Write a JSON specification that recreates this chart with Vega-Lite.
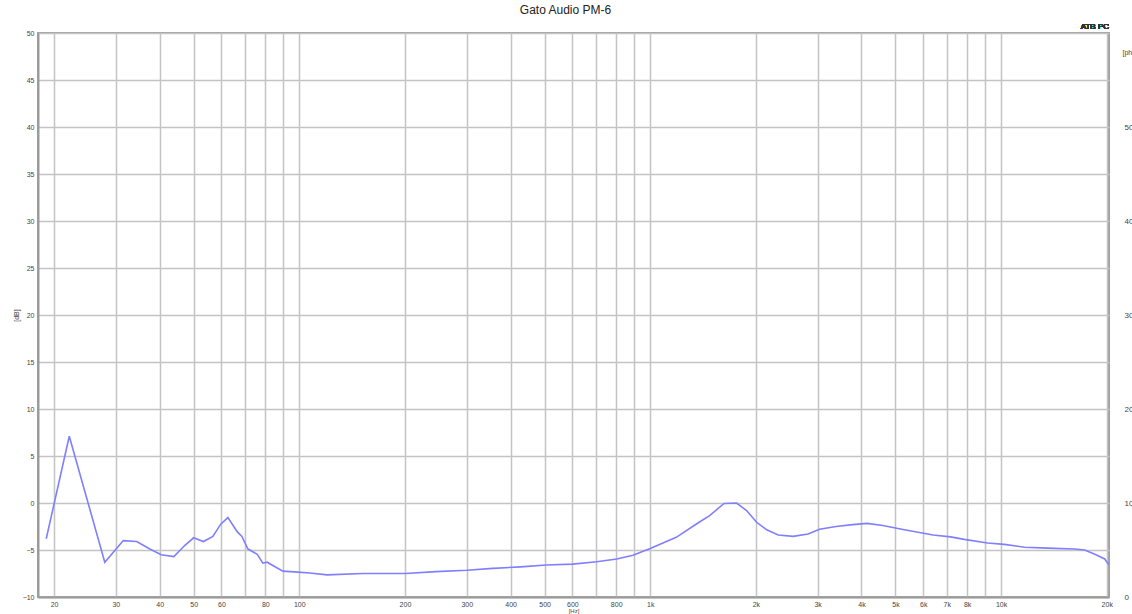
{
  "$schema": "https://vega.github.io/schema/vega-lite/v6.json",
  "autosize": {"type": "none"},
  "width": 1071,
  "height": 564,
  "padding": {"left": 38, "top": 33, "right": 23, "bottom": 17},
  "background": "white",
  "title": {
    "text": "Gato Audio PM-6",
    "fontSize": 12,
    "fontWeight": "normal",
    "font": "Liberation Sans",
    "color": "#222222",
    "anchor": "middle",
    "offset": 6,
    "dx": -8
  },
  "config": {
    "font": "Liberation Sans",
    "view": {"stroke": "#a0a0a0", "strokeWidth": 2},
    "axis": {
      "gridColor": "#c4c4c4",
      "gridWidth": 1.5,
      "ticks": false,
      "domainColor": "#9a9a9a",
      "domainWidth": 2,
      "labelColor": "#444444",
      "labelFontSize": 7,
      "titleColor": "#444444",
      "titleFontSize": 7,
      "titleFontWeight": "normal",
      "labelFlush": false,
      "labelOverlap": false,
      "labelBound": false
    }
  },
  "data": {
    "values": [
      {"f": 19, "db": -3.8},
      {"f": 22.1, "db": 7.1},
      {"f": 27.9, "db": -6.3},
      {"f": 31.5, "db": -4.0},
      {"f": 34.4, "db": -4.1},
      {"f": 37.5, "db": -4.9},
      {"f": 40.4, "db": -5.5},
      {"f": 43.9, "db": -5.7},
      {"f": 47.2, "db": -4.5},
      {"f": 50, "db": -3.7},
      {"f": 53.3, "db": -4.1},
      {"f": 56.7, "db": -3.55},
      {"f": 59.7, "db": -2.25},
      {"f": 62.6, "db": -1.55},
      {"f": 66.5, "db": -3.05},
      {"f": 68.6, "db": -3.55},
      {"f": 71.4, "db": -4.9},
      {"f": 75.9, "db": -5.45},
      {"f": 78.7, "db": -6.4},
      {"f": 81, "db": -6.3},
      {"f": 85, "db": -6.75},
      {"f": 89.8, "db": -7.25},
      {"f": 99, "db": -7.35},
      {"f": 107, "db": -7.45},
      {"f": 120, "db": -7.65},
      {"f": 152, "db": -7.5},
      {"f": 201, "db": -7.5},
      {"f": 245, "db": -7.3},
      {"f": 300, "db": -7.15},
      {"f": 356, "db": -6.95},
      {"f": 427, "db": -6.8},
      {"f": 506, "db": -6.6},
      {"f": 601, "db": -6.5},
      {"f": 704, "db": -6.25},
      {"f": 803, "db": -5.95},
      {"f": 893, "db": -5.55},
      {"f": 1000, "db": -4.85},
      {"f": 1186, "db": -3.65},
      {"f": 1378, "db": -2.05},
      {"f": 1477, "db": -1.35},
      {"f": 1623, "db": -0.05},
      {"f": 1762, "db": 0.0},
      {"f": 1882, "db": -0.8},
      {"f": 2010, "db": -2.05},
      {"f": 2148, "db": -2.85},
      {"f": 2315, "db": -3.4},
      {"f": 2555, "db": -3.55},
      {"f": 2817, "db": -3.3},
      {"f": 3040, "db": -2.8},
      {"f": 3385, "db": -2.5},
      {"f": 3775, "db": -2.3},
      {"f": 4150, "db": -2.17},
      {"f": 4600, "db": -2.4},
      {"f": 5300, "db": -2.85},
      {"f": 6400, "db": -3.4},
      {"f": 7180, "db": -3.6},
      {"f": 7850, "db": -3.87},
      {"f": 9150, "db": -4.25},
      {"f": 10210, "db": -4.4},
      {"f": 11660, "db": -4.7},
      {"f": 13590, "db": -4.8},
      {"f": 16200, "db": -4.9},
      {"f": 17300, "db": -5.0},
      {"f": 18500, "db": -5.45},
      {"f": 19740, "db": -5.95},
      {"f": 20300, "db": -6.6}
    ]
  },
  "layer": [
    {
      "mark": {"type": "line", "color": "#7f7fff", "strokeWidth": 1.6, "clip": true},
      "encoding": {
        "x": {
          "field": "f",
          "type": "quantitative",
          "scale": {"type": "log", "domain": [18, 20300], "nice": false},
          "axis": {
            "orient": "bottom",
            "values": [20, 30, 40, 50, 60, 70, 80, 90, 100, 200, 300, 400, 500, 600, 700, 800, 900, 1000, 2000, 3000, 4000, 5000, 6000, 7000, 8000, 9000, 10000, 20000],
            "labelExpr": "(datum.value == 70 || datum.value == 90 || datum.value == 700 || datum.value == 900 || datum.value == 9000) ? '' : (datum.value >= 1000 ? (datum.value / 1000) + 'k' : '' + datum.value)",
            "labelPadding": 3,
            "title": "[Hz]",
            "titleFontSize": 6,
            "titlePadding": 0
          }
        },
        "y": {
          "field": "db",
          "type": "quantitative",
          "scale": {"domain": [-10, 50], "nice": false},
          "axis": {
            "orient": "left",
            "values": [-10, -5, 0, 5, 10, 15, 20, 25, 30, 35, 40, 45, 50],
            "labelPadding": 4,
            "title": "[dB]",
            "titlePadding": 3
          }
        }
      }
    },
    {
      "mark": {"type": "line", "strokeOpacity": 0},
      "encoding": {
        "x": {"field": "f", "type": "quantitative"},
        "y": {
          "field": "db",
          "type": "quantitative",
          "axis": {
            "orient": "right",
            "values": [-10, 0, 10, 20, 30, 40],
            "labelExpr": "'' + (datum.value + 10)",
            "grid": false,
            "domain": false,
            "labelPadding": 15,
            "labelFontSize": 8,
            "title": "[phase]",
            "titleAngle": 0,
            "titleX": 13,
            "titleY": 19,
            "titleAlign": "left",
            "titleBaseline": "middle"
          }
        }
      }
    },
    {
      "mark": {"type": "text", "text": "ATB PC", "fontSize": 8, "align": "right", "baseline": "bottom", "dy": -2, "color": "#333333"},
      "encoding": {
        "x": {"datum": 20300, "type": "quantitative"},
        "y": {"datum": 50, "type": "quantitative", "axis": null}
      }
    }
  ],
  "resolve": {"scale": {"y": "shared"}, "axis": {"y": "independent"}}
}
